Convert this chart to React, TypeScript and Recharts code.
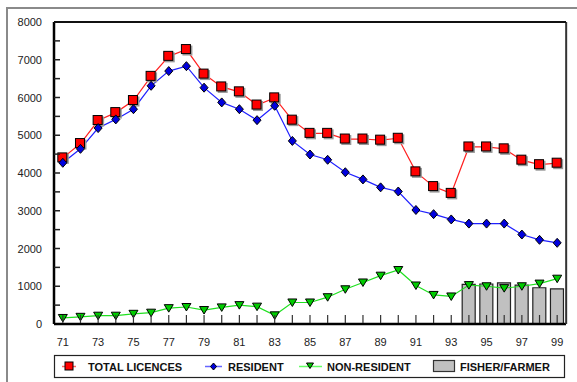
import React from 'react';
import {
  ComposedChart,
  Line,
  Bar,
  XAxis,
  YAxis,
} from 'recharts';

const years = ['71', '72', '73', '74', '75', '76', '77', '78', '79', '80', '81', '82', '83', '84', '85', '86', '87', '88', '89', '90', '91', '92', '93', '94', '95', '96', '97', '98', '99'];
const totalLicences = [4400, 4780, 5390, 5600, 5920, 6560, 7090, 7270, 6620, 6280, 6150, 5800, 5990, 5400, 5050, 5050, 4900, 4900, 4870, 4920, 4030, 3640, 3460, 4690, 4690, 4640, 4340, 4220, 4260];
const resident = [4270, 4640, 5190, 5420, 5690, 6310, 6700, 6830, 6260, 5870, 5690, 5400, 5780, 4850, 4490, 4350, 4020, 3830, 3620, 3510, 3020, 2910, 2770, 2660, 2660, 2660, 2370, 2230, 2150];
const nonResident = [160, 190, 220, 220, 270, 300, 420, 450, 370, 440, 500, 460, 230, 570, 570, 710, 920, 1100, 1280, 1430, 1020, 770, 730, 1030, 1000, 950, 1000, 1070, 1200];
const fisherFarmer = [null, null, null, null, null, null, null, null, null, null, null, null, null, null, null, null, null, null, null, null, null, null, null, 1050, 1060, 1090, 1030, 960, 930];
const yTicks = [0, 500, 1000, 1500, 2000, 2500, 3000, 3500, 4000, 4500, 5000, 5500, 6000, 6500, 7000, 7500, 8000];

const data = years.map((year, i) => ({
  year,
  total: totalLicences[i],
  resident: resident[i],
  nonResident: nonResident[i],
  fisher: fisherFarmer[i],
}));

const FONT = '"Liberation Sans", Arial, sans-serif';
const PLOT_W = 512;
const PLOT_H = 302;

const SquareDot = (props: any) => {
  const { cx, cy } = props;
  if (cx == null || cy == null) return null;
  return (
    <g>
      <rect x={cx - 4} y={cy - 4} width={10} height={10} fill="#999" />
      <rect x={cx - 5} y={cy - 5} width={9} height={9} fill="#FF0000" stroke="#000" strokeWidth={1} />
    </g>
  );
};

const DiamondDot = (props: any) => {
  const { cx, cy } = props;
  if (cx == null || cy == null) return null;
  return (
    <path
      d={`M${cx},${cy - 4.5} L${cx + 4},${cy} L${cx},${cy + 4.5} L${cx - 4},${cy} Z`}
      fill="#0000DD"
      stroke="#000"
      strokeWidth={1}
    />
  );
};

const TriangleDot = (props: any) => {
  const { cx, cy } = props;
  if (cx == null || cy == null) return null;
  return (
    <path
      d={`M${cx - 4.5},${cy - 3.5} L${cx + 4.5},${cy - 3.5} L${cx},${cy + 4} Z`}
      fill="#00CC00"
      stroke="#000"
      strokeWidth={1}
    />
  );
};

const YTick = (props: any) => {
  const { x, y, payload } = props;
  const v = Number(payload.value);
  const major = v % 1000 === 0;
  const top = v === 8000;
  return (
    <g>
      {top && (
        <rect x={x} y={y - 1} width={PLOT_W} height={2} fill="#111" />
      )}
      {v !== 0 && !top && (
        <line x1={x} y1={y} x2={x + 6} y2={y} stroke="#222" strokeWidth={1.5} />
      )}
      {major && (
        <text x={x - 12} y={y + 4} textAnchor="end" fontSize={11} fontFamily={FONT} fill="#222">
          {v}
        </text>
      )}
    </g>
  );
};

const XTick = (props: any) => {
  const { x, y, payload } = props;
  const show = Number(payload.value) % 2 === 1;
  const last = String(payload.value) === years[years.length - 1];
  return (
    <g>
      <line x1={x} y1={y - 1} x2={x} y2={y - 9} stroke="#333" strokeWidth={1.2} />
      {last && (
        <rect x={x + 8} y={y - PLOT_H} width={2} height={PLOT_H} fill="#333" />
      )}
      {show && (
        <text x={x} y={y + 22} textAnchor="middle" fontSize={11} fontFamily={FONT} fill="#222">
          {payload.value}
        </text>
      )}
    </g>
  );
};

const legendText = { fontSize: 11, fontFamily: FONT, fontWeight: 700, fill: '#111' };

const ChartLegend = () => (
  <svg width={577} height={382} style={{ position: 'absolute', left: 0, top: 0 }}>
    <rect x={6} y={7} width={571} height={2} fill="#8a8a8a" />
    <rect x={6} y={7} width={2} height={375} fill="#8a8a8a" />
    <g transform="translate(54,355)">
      <rect x={0.5} y={0.5} width={510} height={22} fill="#fff" stroke="#222" strokeWidth={1.2} />
      <line x1={8} y1={11.5} x2={22} y2={11.5} stroke="#FF6666" strokeWidth={1.5} />
      <rect x={11} y={7} width={8} height={8} fill="#FF0000" stroke="#000" />
      <text x={34} y={15.5} {...legendText}>TOTAL LICENCES</text>
      <line x1={151} y1={11.5} x2={168} y2={11.5} stroke="#6666FF" strokeWidth={1.5} />
      <path d="M159.5,8 L162.5,11.5 L159.5,15 L156.5,11.5 Z" fill="#0000DD" stroke="#000" />
      <text x={174} y={15.5} {...legendText}>RESIDENT</text>
      <line x1={245} y1={11.5} x2={268} y2={11.5} stroke="#66FF66" strokeWidth={1.5} />
      <path d="M252.5,8 L259.5,8 L256,13.5 Z" fill="#00CC00" stroke="#000" />
      <text x={273} y={15.5} {...legendText}>NON-RESIDENT</text>
      <rect x={379.5} y={5.5} width={21} height={11} fill="#C0C0C0" stroke="#333" strokeWidth={1.2} />
      <text x={406} y={15.5} {...legendText}>FISHER/FARMER</text>
    </g>
  </svg>
);

export default function App() {
  return (
    <div style={{ position: 'absolute', left: 0, top: 0, width: 577, height: 382, overflow: 'hidden', background: '#fff' }}>
      <ChartLegend />
      <div style={{ position: 'absolute', left: 0, top: 0 }}>
        <ComposedChart
          width={577}
          height={382}
          data={data}
          margin={{ top: 22, right: 11, left: 10, bottom: 0 }}
          barCategoryGap="12%"
        >
          <Bar
            dataKey="fisher"
            fill="#C0C0C0"
            stroke="#222"
            strokeWidth={1.2}
            isAnimationActive={false}
          />
          <Line
            dataKey="total"
            stroke="#FF2020"
            strokeWidth={1.2}
            dot={<SquareDot />}
            activeDot={false}
            isAnimationActive={false}
          />
          <Line
            dataKey="resident"
            stroke="#2020FF"
            strokeWidth={1.2}
            dot={<DiamondDot />}
            activeDot={false}
            isAnimationActive={false}
          />
          <Line
            dataKey="nonResident"
            stroke="#20E020"
            strokeWidth={1.2}
            dot={<TriangleDot />}
            activeDot={false}
            isAnimationActive={false}
          />
          <XAxis
            dataKey="year"
            interval={0}
            height={58}
            tickSize={0}
            tickMargin={0}
            tick={<XTick />}
            axisLine={{ stroke: '#000', strokeWidth: 2.5 }}
          />
          <YAxis
            domain={[0, 8000]}
            ticks={yTicks}
            interval={0}
            width={44}
            tickSize={0}
            tickMargin={0}
            tick={<YTick />}
            axisLine={{ stroke: '#000', strokeWidth: 2.5 }}
          />
        </ComposedChart>
      </div>
    </div>
  );
}
